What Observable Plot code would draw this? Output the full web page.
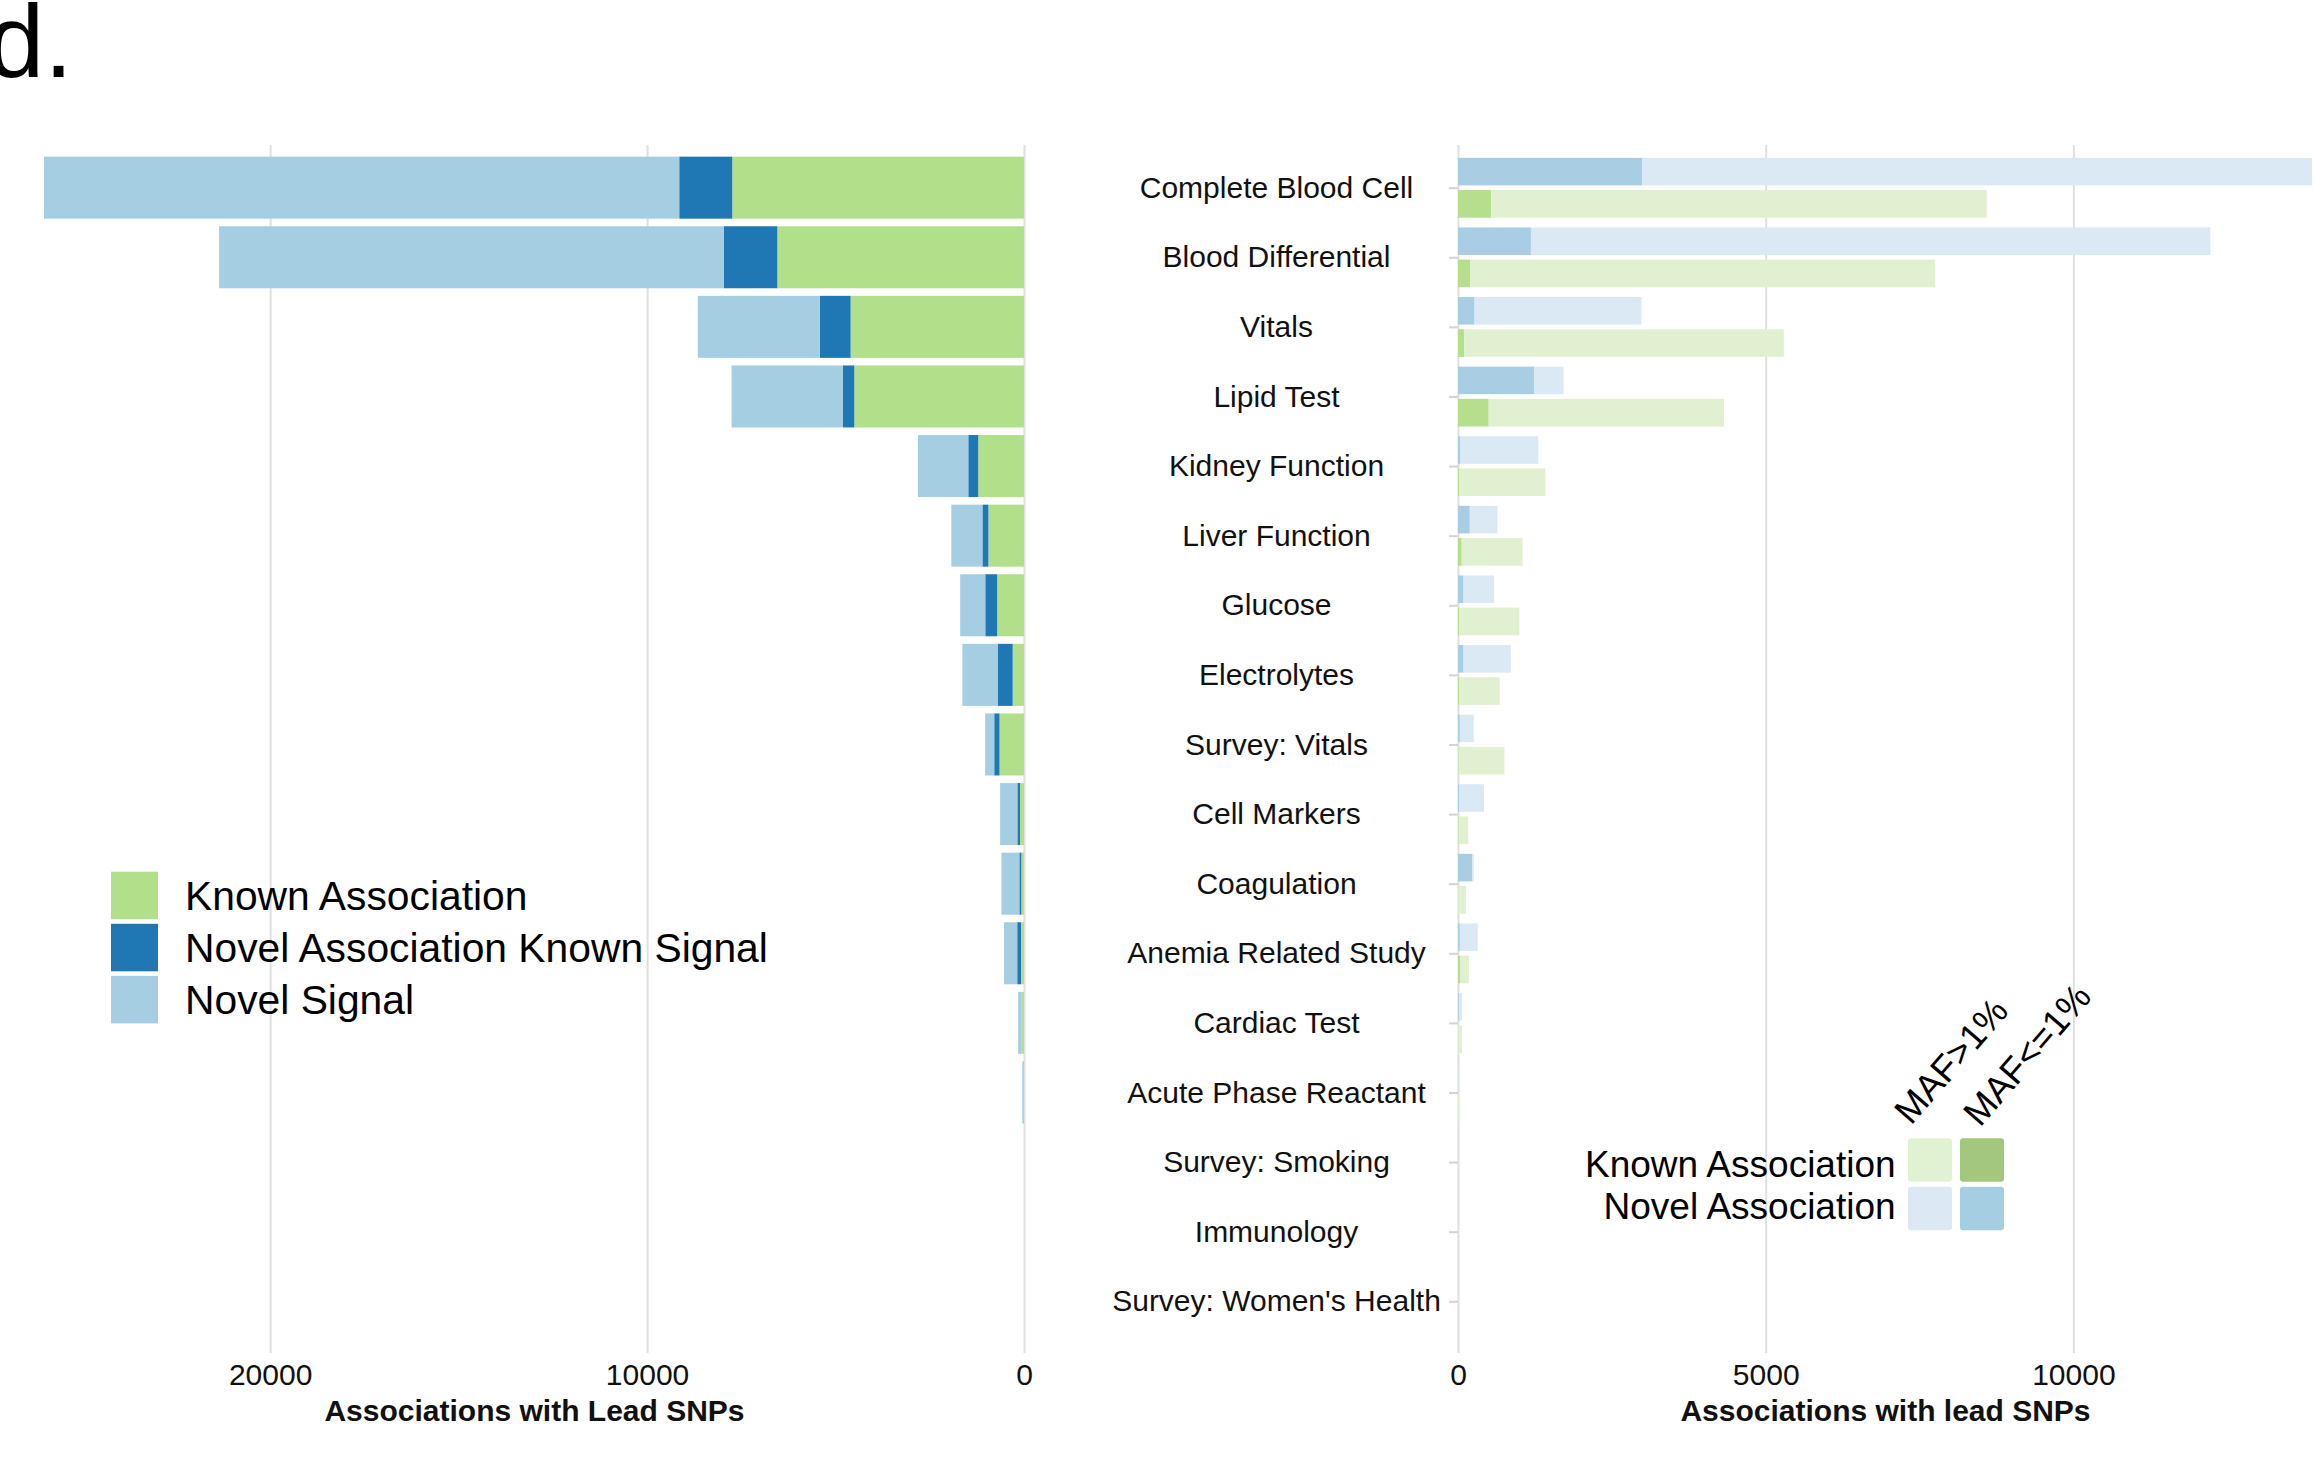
<!DOCTYPE html>
<html>
<head>
<meta charset="utf-8">
<script src="https://cdn.jsdelivr.net/npm/d3@7"></script>
<script src="https://cdn.jsdelivr.net/npm/@observablehq/plot@0.6"></script>
<style>
  html, body { margin: 0; padding: 0; background: #ffffff; }
  body { width: 2314px; height: 1457px; overflow: hidden; position: relative;
         font-family: "Liberation Sans", Arial, Helvetica, sans-serif; color: #111; }
  #root { position: relative; width: 2314px; height: 1457px; overflow: hidden; }
  #panelTag { position: absolute; left: -13px; top: -10px; font-size: 103px; line-height: 103px; color: #000; }
  #leftChart { position: absolute; left: 0; top: 0; }
  #rightChart { position: absolute; left: 1100px; top: 0; }
  #overlay { position: absolute; left: 0; top: 0; pointer-events: none; }
</style>
</head>
<body>
<div id="root">
  <div id="leftChart"></div>
  <div id="rightChart"></div>
  <div id="panelTag">d.</div>
  <svg id="overlay" width="2314" height="1457"></svg>
</div>
<script>
// ---------------- data ----------------
const categories = [
  "Complete Blood Cell", "Blood Differential", "Vitals", "Lipid Test",
  "Kidney Function", "Liver Function", "Glucose", "Electrolytes",
  "Survey: Vitals", "Cell Markers", "Coagulation", "Anemia Related Study",
  "Cardiac Test", "Acute Phase Reactant", "Survey: Smoking", "Immunology",
  "Survey: Women's Health"
];

// left panel (stacked, counts of associations with lead SNPs)
const leftSeries = ["Known Association", "Novel Association Known Signal", "Novel Signal"];
const leftColors = ["#b2df8a", "#1f78b4", "#a6cee3"];
const knownAssociation            = [7740, 6544, 4600, 4503, 1214, 945, 712, 300, 650, 106, 70, 80, 60, 10, 0, 0, 0];
const novelAssociationKnownSignal = [1407, 1425, 815, 299, 264, 158, 315, 400, 140, 70, 53, 100, 5, 5, 0, 0, 0];
const novelSignal                 = [16853, 13386, 3240, 2955, 1337, 825, 666, 935, 240, 457, 475, 350, 90, 30, 0, 0, 0];
const leftTicks = [0, 10000, 20000];
const leftTitle = "Associations with Lead SNPs";

// right panel (per category: novel bar on top, known bar below; MAF<=1% part then MAF>1% part)
const mafKeys = ["MAF>1%", "MAF<=1%"];
const novelMafRare   = [2990, 1185, 269, 1240, 40, 192, 90, 90, 30, 20, 230, 30, 15, 5, 0, 0, 0];
const novelMafCommon = [10887, 11040, 2711, 474, 1264, 447, 498, 767, 226, 402, 26, 290, 49, 10, 0, 0, 0];
const knownMafRare   = [540, 195, 102, 499, 20, 60, 20, 20, 10, 10, 5, 40, 5, 5, 0, 0, 0];
const knownMafCommon = [8053, 7554, 5192, 3823, 1399, 989, 977, 658, 744, 156, 123, 139, 59, 15, 0, 0, 0];
const novelBarColors  = {"MAF>1%": "#dae9f3", "MAF<=1%": "#a9cde3"};
const knownBarColors  = {"MAF>1%": "#e0f0d1", "MAF<=1%": "#b5de8d"};
const rightLegendRows = ["Known Association", "Novel Association"];
const rightLegendColors = [["#e1f2d2", "#a2c77d"], ["#dce9f4", "#a6cee3"]];
const rightTicks = [0, 5000, 10000];
const rightMax = 13877;
const rightTitle = "Associations with lead SNPs";

// ---------------- build tables ----------------
const leftData = [];
categories.forEach((c, i) => {
  leftData.push({category: c, series: leftSeries[0], value: knownAssociation[i]});
  leftData.push({category: c, series: leftSeries[1], value: novelAssociationKnownSignal[i]});
  leftData.push({category: c, series: leftSeries[2], value: novelSignal[i]});
});
const novelData = [], knownData = [];
categories.forEach((c, i) => {
  novelData.push({category: c, maf: "MAF<=1%", value: novelMafRare[i]});
  novelData.push({category: c, maf: "MAF>1%", value: novelMafCommon[i]});
  knownData.push({category: c, maf: "MAF<=1%", value: knownMafRare[i]});
  knownData.push({category: c, maf: "MAF>1%", value: knownMafCommon[i]});
});

const fontFamily = "'Liberation Sans', Arial, Helvetica, sans-serif";
const yScale = {type: "band", domain: categories, paddingInner: 0.109, paddingOuter: 0.2325, align: 0.36, round: false};
const gridStyle = {stroke: "#e0e0e0", strokeWidth: 2, strokeOpacity: 1};
const fmt = d3.format("d");

// ---------------- left chart ----------------
const left = Plot.plot({
  width: 1100, height: 1457,
  marginLeft: 44, marginRight: 76, marginTop: 145, marginBottom: 104,
  style: {fontFamily, background: "transparent", overflow: "visible", color: "#111"},
  x: {domain: [26000, 0]},
  y: {...yScale, axis: null},
  color: {domain: leftSeries, range: leftColors},
  marks: [
    Plot.gridX({ticks: leftTicks, ...gridStyle}),
    Plot.barX(leftData, Plot.stackX({y: "category", x: "value", fill: "series", order: leftSeries})),
    Plot.axisX({ticks: leftTicks, tickSize: 0, tickPadding: 10, fontSize: 30, label: null, tickFormat: fmt}),
    Plot.text([leftTitle], {text: d => d, frameAnchor: "bottom", lineAnchor: "middle", dy: 58, fontSize: 30, fontWeight: "bold"})
  ]
});
document.getElementById("leftChart").appendChild(left);

// ---------------- right chart ----------------
const right = Plot.plot({
  width: 1214, height: 1457,
  marginLeft: 358, marginRight: 2, marginTop: 145, marginBottom: 104,
  style: {fontFamily, background: "transparent", overflow: "visible", color: "#111"},
  x: {domain: [0, rightMax]},
  y: yScale,
  marks: [
    Plot.gridX({ticks: rightTicks, ...gridStyle}),
    Plot.barX(novelData, Plot.stackX({y: "category", x: "value", z: "maf", order: ["MAF<=1%", "MAF>1%"],
      fill: d => novelBarColors[d.maf], insetTop: 1.2, insetBottom: 33.3})),
    Plot.barX(knownData, Plot.stackX({y: "category", x: "value", z: "maf", order: ["MAF<=1%", "MAF>1%"],
      fill: d => knownBarColors[d.maf], insetTop: 33.4, insetBottom: 1})),
    Plot.axisY({tickSize: 9, tickPadding: 173, textAnchor: "middle", fontSize: 30,
      stroke: "#d4d4d4", strokeWidth: 2, fill: "#111", label: null}),
    Plot.axisX({ticks: rightTicks, tickSize: 0, tickPadding: 10, fontSize: 30, label: null, tickFormat: fmt}),
    Plot.text([rightTitle], {text: d => d, frameAnchor: "bottom", lineAnchor: "middle", dy: 58, fontSize: 30, fontWeight: "bold"})
  ]
});
document.getElementById("rightChart").appendChild(right);

// ---------------- legends (overlay) ----------------
const svg = d3.select("#overlay").style("font-family", fontFamily);

// left legend
const lg = svg.append("g");
leftSeries.forEach((s, i) => {
  const y0 = 871.7 + i * 52.1;
  lg.append("rect").attr("x", 111).attr("y", y0).attr("width", 47).attr("height", 47.5).attr("fill", leftColors[i]);
  lg.append("text").attr("x", 185).attr("y", y0 + 23.75 + 14.6)
    .attr("font-size", 40.8).attr("fill", "#000").text(s);
});

// right legend
const rg = svg.append("g");
const colX = [1908, 1960];
const textBaselines = [1177, 1219];
rightLegendRows.forEach((s, i) => {
  const y0 = 1138.3 + i * 48.4;
  rg.append("text").attr("x", 1895.6).attr("y", textBaselines[i])
    .attr("text-anchor", "end").attr("font-size", 37).attr("fill", "#000").text(s);
  colX.forEach((x, j) => {
    rg.append("rect").attr("x", x).attr("y", y0).attr("width", 44).attr("height", 43.5)
      .attr("rx", 3).attr("fill", rightLegendColors[i][j]);
  });
});
const labelAnchors = [[1911, 1126], [1980, 1128]];
mafKeys.forEach((k, j) => {
  rg.append("text").attr("transform", `translate(${labelAnchors[j][0]},${labelAnchors[j][1]}) rotate(-49)`)
    .attr("font-size", 36.5).attr("fill", "#000").text(k);
});
</script>
</body>
</html>
